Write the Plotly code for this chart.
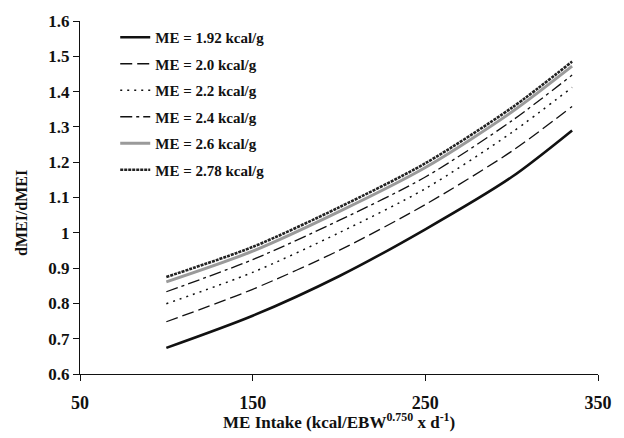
import plotly.graph_objects as go

# Data
me_intake = [100, 150, 200, 250, 300, 335]
series_names = ["ME = 1.92 kcal/g", "ME = 2.0 kcal/g", "ME = 2.2 kcal/g",
                "ME = 2.4 kcal/g", "ME = 2.6 kcal/g", "ME = 2.78 kcal/g"]
me_192 = [0.674, 0.765, 0.877, 1.01, 1.158, 1.29]
me_20 = [0.748, 0.840, 0.950, 1.08, 1.231, 1.358]
me_22 = [0.799, 0.888, 1.000, 1.125, 1.284, 1.412]
me_24 = [0.833, 0.924, 1.035, 1.158, 1.317, 1.447]
me_26 = [0.861, 0.948, 1.060, 1.185, 1.342, 1.472]
me_278 = [0.875, 0.960, 1.072, 1.197, 1.354, 1.485]

x_ticks = [50, 150, 250, 350]
y_ticks = [0.6, 0.7, 0.8, 0.9, 1.0, 1.1, 1.2, 1.3, 1.4, 1.5, 1.6]
y_tick_labels = ["0.6", "0.7", "0.8", "0.9", "1", "1.1", "1.2", "1.3", "1.4", "1.5", "1.6"]
x_title = "ME Intake (kcal/EBW<sup>0.750</sup> x d<sup>-1</sup>)"
y_title = "dMEI/dMEI"

styles = [
    dict(color="#111111", width=2.6, dash="solid"),
    dict(color="#111111", width=1.3, dash="12px,5px"),
    dict(color="#111111", width=1.5, dash="2px,5px"),
    dict(color="#111111", width=1.3, dash="12px,4px,3px,4px"),
    dict(color="#9a9a9a", width=3.0, dash="solid"),
    dict(color="#222222", width=2.6, dash="3px,1px"),
]

FONT = "Liberation Serif, Times New Roman, serif"

fig = go.Figure()
for name, ys, st in zip(series_names,
                        [me_192, me_20, me_22, me_24, me_26, me_278], styles):
    fig.add_trace(go.Scatter(
        x=me_intake, y=ys, mode="lines", name="<b>" + name + "</b>",
        line=dict(color=st["color"], width=st["width"], dash=st["dash"],
                  shape="spline", smoothing=0.8),
        legendgroup=name,
    ))

fig.update_layout(
    width=624, height=438,
    margin=dict(l=80, r=17, t=14, b=64),
    paper_bgcolor="white", plot_bgcolor="white",
    font=dict(family=FONT, color="#111111", size=16),
    showlegend=True,
    legend=dict(
        x=0.068, y=1.0, xanchor="left", yanchor="top",
        bgcolor="rgba(0,0,0,0)", borderwidth=0,
        font=dict(family=FONT, size=15, color="#111111"),
        tracegroupgap=4,
        itemwidth=30,
    ),
    xaxis=dict(
        range=[50, 350], tickvals=x_ticks,
        ticktext=["<b>%d</b>" % v for v in x_ticks],
        showgrid=False, zeroline=False, showline=True, linecolor="#111111",
        linewidth=1.2, ticks="outside", ticklen=6, tickcolor="#111111",
        tickfont=dict(family=FONT, size=18), ticklabelstandoff=6,
    ),
    yaxis=dict(
        range=[0.6, 1.6], tickvals=y_ticks,
        ticktext=["<b>" + t + "</b>" for t in y_tick_labels],
        showgrid=False, zeroline=False, showline=True, linecolor="#111111",
        linewidth=1.2, ticks="outside", ticklen=6, tickcolor="#111111",
        tickfont=dict(family=FONT, size=17),
    ),
    annotations=[
        dict(text="<b>" + x_title + "</b>", xref="paper", yref="paper",
             x=0.5, y=-0.134, xanchor="center", yanchor="middle",
             showarrow=False, font=dict(family=FONT, size=17, color="#111111")),
        dict(text="<b>" + y_title + "</b>", xref="paper", yref="paper",
             x=-0.114, y=0.456, xanchor="center", yanchor="middle",
             textangle=-90, showarrow=False,
             font=dict(family=FONT, size=16, color="#111111")),
    ],
)

fig.write_html("out.html", config={"displayModeBar": False},
               post_script="document.body.style.margin='0';")
